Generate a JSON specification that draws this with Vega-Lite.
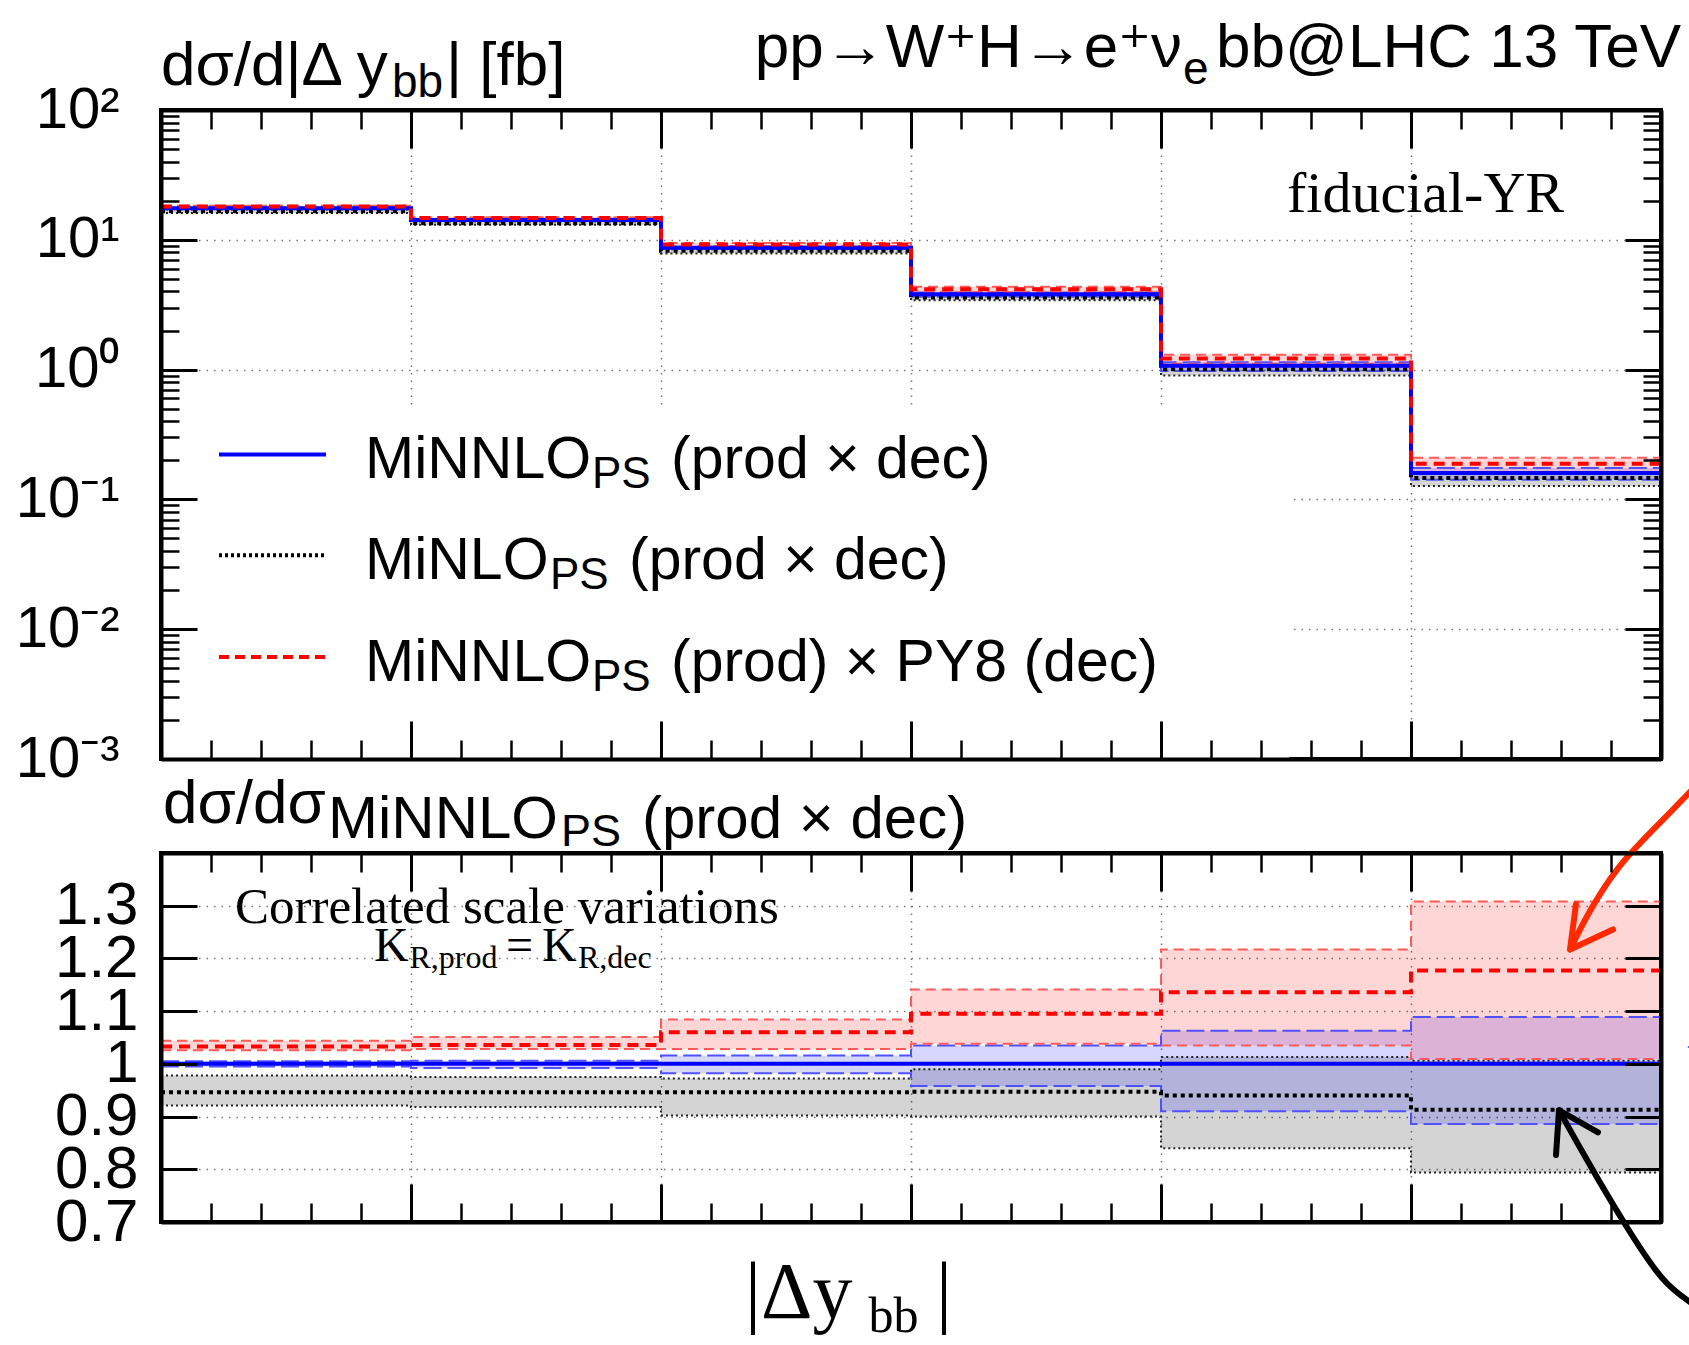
{
  "$schema": "https://vega.github.io/schema/vega-lite/v6.json",
  "background": "white",
  "padding": {"left": 13, "top": 15, "right": 0, "bottom": 0},
  "bounds": "flush",
  "spacing": 94,
  "config": {"view": {"stroke": "#000", "strokeWidth": 4}},
  "datasets": {
    "top": [
      {"s": "MiNLO", "x": 0, "c": 16.56, "lo": 16.12, "hi": 17.12},
      {"s": "MiNLO", "x": 0.5, "c": 13.43, "lo": 13.04, "hi": 13.85},
      {"s": "MiNLO", "x": 1, "c": 8.23, "lo": 7.85, "hi": 8.46},
      {"s": "MiNLO", "x": 1.5, "c": 3.6, "lo": 3.42, "hi": 3.76},
      {"s": "MiNLO", "x": 2, "c": 1.006, "lo": 0.899, "hi": 1.084},
      {"s": "MiNLO", "x": 2.5, "c": 0.1461, "lo": 0.127, "hi": 0.161},
      {"s": "MiNLO", "x": 3, "c": 0.1461, "lo": 0.127, "hi": 0.161},
      {"s": "MiNNLO", "x": 0, "c": 17.5, "lo": 17.41, "hi": 17.59},
      {"s": "MiNNLO", "x": 0.5, "c": 14.2, "lo": 14.09, "hi": 14.29},
      {"s": "MiNNLO", "x": 1, "c": 8.7, "lo": 8.54, "hi": 8.84},
      {"s": "MiNNLO", "x": 1.5, "c": 3.8, "lo": 3.64, "hi": 3.93},
      {"s": "MiNNLO", "x": 2, "c": 1.07, "lo": 0.974, "hi": 1.137},
      {"s": "MiNNLO", "x": 2.5, "c": 0.16, "lo": 0.1418, "hi": 0.1742},
      {"s": "MiNNLO", "x": 3, "c": 0.16, "lo": 0.1418, "hi": 0.1742},
      {"s": "PY8", "x": 0, "c": 18.08, "lo": 17.96, "hi": 18.27},
      {"s": "PY8", "x": 0.5, "c": 14.71, "lo": 14.6, "hi": 14.92},
      {"s": "PY8", "x": 1, "c": 9.22, "lo": 8.94, "hi": 9.43},
      {"s": "PY8", "x": 1.5, "c": 4.16, "lo": 3.94, "hi": 4.34},
      {"s": "PY8", "x": 2, "c": 1.216, "lo": 1.107, "hi": 1.302},
      {"s": "PY8", "x": 2.5, "c": 0.1883, "lo": 0.1614, "hi": 0.2093},
      {"s": "PY8", "x": 3, "c": 0.1883, "lo": 0.1614, "hi": 0.2093}
    ],
    "ratio": [
      {"s": "MiNLO", "x": 0, "c": 0.946, "lo": 0.921, "hi": 0.978},
      {"s": "MiNLO", "x": 0.5, "c": 0.946, "lo": 0.918, "hi": 0.975},
      {"s": "MiNLO", "x": 1, "c": 0.946, "lo": 0.902, "hi": 0.972},
      {"s": "MiNLO", "x": 1.5, "c": 0.947, "lo": 0.9, "hi": 0.99},
      {"s": "MiNLO", "x": 2, "c": 0.94, "lo": 0.84, "hi": 1.013},
      {"s": "MiNLO", "x": 2.5, "c": 0.913, "lo": 0.794, "hi": 1.006},
      {"s": "MiNLO", "x": 3, "c": 0.913, "lo": 0.794, "hi": 1.006},
      {"s": "MiNNLO", "x": 0, "c": 1, "lo": 0.995, "hi": 1.005},
      {"s": "MiNNLO", "x": 0.5, "c": 1, "lo": 0.992, "hi": 1.006},
      {"s": "MiNNLO", "x": 1, "c": 1, "lo": 0.982, "hi": 1.016},
      {"s": "MiNNLO", "x": 1.5, "c": 1, "lo": 0.958, "hi": 1.035},
      {"s": "MiNNLO", "x": 2, "c": 1, "lo": 0.91, "hi": 1.063},
      {"s": "MiNNLO", "x": 2.5, "c": 1, "lo": 0.886, "hi": 1.089},
      {"s": "MiNNLO", "x": 3, "c": 1, "lo": 0.886, "hi": 1.089},
      {"s": "PY8", "x": 0, "c": 1.033, "lo": 1.026, "hi": 1.044},
      {"s": "PY8", "x": 0.5, "c": 1.036, "lo": 1.028, "hi": 1.051},
      {"s": "PY8", "x": 1, "c": 1.06, "lo": 1.028, "hi": 1.084},
      {"s": "PY8", "x": 1.5, "c": 1.095, "lo": 1.038, "hi": 1.141},
      {"s": "PY8", "x": 2, "c": 1.136, "lo": 1.035, "hi": 1.217},
      {"s": "PY8", "x": 2.5, "c": 1.177, "lo": 1.009, "hi": 1.308},
      {"s": "PY8", "x": 3, "c": 1.177, "lo": 1.009, "hi": 1.308}
    ],
    "arrows": [
      {"g": "rc", "c": "r", "i": 0, "x": 2.818, "y": 1.217},
      {"g": "rc", "c": "r", "i": 1, "x": 2.858, "y": 1.29},
      {"g": "rc", "c": "r", "i": 2, "x": 2.914, "y": 1.371},
      {"g": "rc", "c": "r", "i": 3, "x": 2.982, "y": 1.442},
      {"g": "rc", "c": "r", "i": 4, "x": 3.06, "y": 1.518},
      {"g": "rc", "c": "r", "i": 5, "x": 3.12, "y": 1.58},
      {"g": "kc", "c": "k", "i": 0, "x": 2.796, "y": 0.912},
      {"g": "kc", "c": "k", "i": 1, "x": 2.832, "y": 0.851},
      {"g": "kc", "c": "k", "i": 2, "x": 2.878, "y": 0.775},
      {"g": "kc", "c": "k", "i": 3, "x": 2.932, "y": 0.69},
      {"g": "kc", "c": "k", "i": 4, "x": 3.002, "y": 0.594},
      {"g": "kc", "c": "k", "i": 5, "x": 3.06, "y": 0.547},
      {"g": "kc", "c": "k", "i": 6, "x": 3.1, "y": 0.52}
    ],
    "heads": [
      {"g": "rh", "c": "r", "i": 0, "x": 2.83, "y": 1.303},
      {"g": "rh", "c": "r", "i": 1, "x": 2.818, "y": 1.217},
      {"g": "rh", "c": "r", "i": 2, "x": 2.904, "y": 1.255},
      {"g": "kh", "c": "k", "i": 0, "x": 2.79, "y": 0.827},
      {"g": "kh", "c": "k", "i": 1, "x": 2.796, "y": 0.912},
      {"g": "kh", "c": "k", "i": 2, "x": 2.874, "y": 0.87}
    ]
  },
  "vconcat": [
    {
      "width": 1500,
      "height": 649,
      "data": {"name": "top"},
      "resolve": {"axis": {"x": "independent", "y": "independent"}},
      "layer": [
        {"data": {"values": [{}]}, "mark": {"type": "rect", "fill": "white"},
         "encoding": {"x": {"datum": 0, "type": "quantitative", "axis": null}, "x2": {"datum": 2.256}, "y": {"datum": 0.519, "type": "quantitative", "axis": null}, "y2": {"datum": 0.001}}},
        {"transform": [{"filter": "datum.s === 'MiNLO'"}], "mark": {"type": "area", "interpolate": "step-after", "fill": "#000000", "fillOpacity": 0.17},
         "encoding": {
           "x": {"field": "x", "type": "quantitative", "scale": {"domain": [0, 3], "nice": false, "zero": false},
             "axis": {"orient": "bottom", "values": [0.5, 1, 1.5, 2, 2.5], "grid": true, "gridColor": "#777", "gridDash": [1.5, 6], "gridWidth": 1.5, "ticks": false, "labels": false, "domain": false, "title": null, "zindex": 0}},
           "y": {"field": "lo", "type": "quantitative", "scale": {"type": "log", "domain": [0.001, 100]},
             "axis": {"orient": "left", "values": [0.001, 0.01, 0.1, 1, 10, 100], "grid": true, "gridColor": "#777", "gridDash": [1.5, 6], "gridWidth": 1.5, "ticks": false, "labels": true, "labelExpr": "['10⁻³','10⁻²','10⁻¹','10⁰','10¹','10²'][round(log(datum.value)/LN10)+3]", "labelFont": "Liberation Sans", "labelFontSize": 58, "labelColor": "#000", "labelPadding": 42, "labelOverlap": false, "labelBound": false, "labelFlush": false, "domain": false, "title": null, "zindex": 0}},
           "y2": {"field": "hi"}}},
        {"transform": [{"filter": "datum.s === 'MiNNLO'"}], "mark": {"type": "area", "interpolate": "step-after", "fill": "#0000ff", "fillOpacity": 0.16},
         "encoding": {
           "x": {"field": "x", "type": "quantitative",
             "axis": {"orient": "bottom", "values": [0, 0.5, 1, 1.5, 2, 2.5, 3], "grid": false, "ticks": true, "tickSize": -38, "tickWidth": 3, "tickColor": "#000", "labels": false, "domain": true, "domainColor": "#000", "domainWidth": 4, "title": null, "zindex": 1}},
           "y": {"field": "lo", "type": "quantitative",
             "axis": {"orient": "left", "values": [0.001, 0.01, 0.1, 1, 10, 100], "grid": false, "ticks": true, "tickSize": -36, "tickWidth": 3, "tickColor": "#000", "labels": false, "domain": true, "domainColor": "#000", "domainWidth": 4, "title": null, "zindex": 1}},
           "y2": {"field": "hi"}}},
        {"transform": [{"filter": "datum.s === 'PY8'"}], "mark": {"type": "area", "interpolate": "step-after", "fill": "#ff0000", "fillOpacity": 0.16},
         "encoding": {
           "x": {"field": "x", "type": "quantitative",
             "axis": {"orient": "bottom", "values": [0.1, 0.2, 0.3, 0.4, 0.6, 0.7, 0.8, 0.9, 1.1, 1.2, 1.3, 1.4, 1.6, 1.7, 1.8, 1.9, 2.1, 2.2, 2.3, 2.4, 2.6, 2.7, 2.8, 2.9], "grid": false, "ticks": true, "tickSize": -19, "tickWidth": 2.5, "tickColor": "#000", "labels": false, "domain": false, "title": null, "zindex": 1}},
           "y": {"field": "lo", "type": "quantitative",
             "axis": {"orient": "left", "values": [0.002, 0.003, 0.004, 0.005, 0.006, 0.007, 0.008, 0.009, 0.02, 0.03, 0.04, 0.05, 0.06, 0.07, 0.08, 0.09, 0.2, 0.3, 0.4, 0.5, 0.6, 0.7, 0.8, 0.9, 2, 3, 4, 5, 6, 7, 8, 9, 20, 30, 40, 50, 60, 70, 80, 90], "grid": false, "ticks": true, "tickSize": -18, "tickWidth": 2.5, "tickColor": "#000", "labels": false, "domain": false, "title": null, "zindex": 1}},
           "y2": {"field": "hi"}}},
        {"transform": [{"filter": "datum.s === 'MiNLO'"}], "mark": {"type": "line", "interpolate": "step-after", "stroke": "#222", "strokeWidth": 2, "strokeDash": [2, 3]},
         "encoding": {
           "x": {"field": "x", "type": "quantitative",
             "axis": {"orient": "top", "values": [0, 0.5, 1, 1.5, 2, 2.5, 3], "grid": false, "ticks": true, "tickSize": -38, "tickWidth": 3, "tickColor": "#000", "labels": false, "domain": true, "domainColor": "#000", "domainWidth": 4, "title": null, "zindex": 1}},
           "y": {"field": "lo", "type": "quantitative",
             "axis": {"orient": "right", "values": [0.001, 0.01, 0.1, 1, 10, 100], "grid": false, "ticks": true, "tickSize": -36, "tickWidth": 3, "tickColor": "#000", "labels": false, "domain": true, "domainColor": "#000", "domainWidth": 4, "title": null, "zindex": 1}}}},
        {"transform": [{"filter": "datum.s === 'MiNLO'"}], "mark": {"type": "line", "interpolate": "step-after", "stroke": "#222", "strokeWidth": 2, "strokeDash": [2, 3]},
         "encoding": {
           "x": {"field": "x", "type": "quantitative",
             "axis": {"orient": "top", "values": [0.1, 0.2, 0.3, 0.4, 0.6, 0.7, 0.8, 0.9, 1.1, 1.2, 1.3, 1.4, 1.6, 1.7, 1.8, 1.9, 2.1, 2.2, 2.3, 2.4, 2.6, 2.7, 2.8, 2.9], "grid": false, "ticks": true, "tickSize": -19, "tickWidth": 2.5, "tickColor": "#000", "labels": false, "domain": false, "title": null, "zindex": 1}},
           "y": {"field": "hi", "type": "quantitative",
             "axis": {"orient": "right", "values": [0.002, 0.003, 0.004, 0.005, 0.006, 0.007, 0.008, 0.009, 0.02, 0.03, 0.04, 0.05, 0.06, 0.07, 0.08, 0.09, 0.2, 0.3, 0.4, 0.5, 0.6, 0.7, 0.8, 0.9, 2, 3, 4, 5, 6, 7, 8, 9, 20, 30, 40, 50, 60, 70, 80, 90], "grid": false, "ticks": true, "tickSize": -18, "tickWidth": 2.5, "tickColor": "#000", "labels": false, "domain": false, "title": null, "zindex": 1}}}},
        {"transform": [{"filter": "datum.s === 'MiNNLO'"}], "mark": {"type": "line", "interpolate": "step-after", "stroke": "#5050ff", "strokeWidth": 2, "strokeDash": [18, 6]},
         "encoding": {"x": {"field": "x", "type": "quantitative", "axis": null}, "y": {"field": "lo", "type": "quantitative", "axis": null}}},
        {"transform": [{"filter": "datum.s === 'MiNNLO'"}], "mark": {"type": "line", "interpolate": "step-after", "stroke": "#5050ff", "strokeWidth": 2, "strokeDash": [18, 6]},
         "encoding": {"x": {"field": "x", "type": "quantitative", "axis": null}, "y": {"field": "hi", "type": "quantitative", "axis": null}}},
        {"transform": [{"filter": "datum.s === 'PY8'"}], "mark": {"type": "line", "interpolate": "step-after", "stroke": "#ff5a5a", "strokeWidth": 2, "strokeDash": [10, 6]},
         "encoding": {"x": {"field": "x", "type": "quantitative", "axis": null}, "y": {"field": "lo", "type": "quantitative", "axis": null}}},
        {"transform": [{"filter": "datum.s === 'PY8'"}], "mark": {"type": "line", "interpolate": "step-after", "stroke": "#ff5a5a", "strokeWidth": 2, "strokeDash": [10, 6]},
         "encoding": {"x": {"field": "x", "type": "quantitative", "axis": null}, "y": {"field": "hi", "type": "quantitative", "axis": null}}},
        {"transform": [{"filter": "datum.s === 'MiNLO'"}], "mark": {"type": "line", "interpolate": "step-after", "stroke": "#000", "strokeWidth": 4, "strokeDash": [4, 4]},
         "encoding": {"x": {"field": "x", "type": "quantitative", "axis": null}, "y": {"field": "c", "type": "quantitative", "axis": null}}},
        {"transform": [{"filter": "datum.s === 'MiNNLO'"}], "mark": {"type": "line", "interpolate": "step-after", "stroke": "#0000ff", "strokeWidth": 4},
         "encoding": {"x": {"field": "x", "type": "quantitative", "axis": null}, "y": {"field": "c", "type": "quantitative", "axis": null}}},
        {"transform": [{"filter": "datum.s === 'PY8'"}], "mark": {"type": "line", "interpolate": "step-after", "stroke": "#ff0000", "strokeWidth": 4, "strokeDash": [11, 7]},
         "encoding": {"x": {"field": "x", "type": "quantitative", "axis": null}, "y": {"field": "c", "type": "quantitative", "axis": null}}},
        {"data": {"values": [{}]}, "mark": {"type": "rule", "stroke": "#0000ff", "strokeWidth": 4},
         "encoding": {"x": {"datum": 0.116, "type": "quantitative", "axis": null}, "x2": {"datum": 0.33}, "y": {"datum": 0.2218, "type": "quantitative", "axis": null}}},
        {"data": {"values": [{}]}, "mark": {"type": "rule", "stroke": "#000", "strokeWidth": 4, "strokeDash": [3, 3]},
         "encoding": {"x": {"datum": 0.116, "type": "quantitative", "axis": null}, "x2": {"datum": 0.33}, "y": {"datum": 0.03707, "type": "quantitative", "axis": null}}},
        {"data": {"values": [{}]}, "mark": {"type": "rule", "stroke": "#ff0000", "strokeWidth": 4, "strokeDash": [10, 6]},
         "encoding": {"x": {"datum": 0.116, "type": "quantitative", "axis": null}, "x2": {"datum": 0.33}, "y": {"datum": 0.006095, "type": "quantitative", "axis": null}}},
        {"data": {"values": [{}]}, "mark": {"type": "text", "text": "MiNNLO", "font": "Liberation Sans", "fontSize": 59, "align": "left", "baseline": "alphabetic", "color": "#000"},
         "encoding": {"x": {"datum": 0.408, "type": "quantitative", "axis": null}, "y": {"datum": 0.1451, "type": "quantitative", "axis": null}}},
        {"data": {"values": [{}]}, "mark": {"type": "text", "text": "PS", "font": "Liberation Sans", "fontSize": 44, "align": "left", "baseline": "alphabetic", "color": "#000"},
         "encoding": {"x": {"datum": 0.862, "type": "quantitative", "axis": null}, "y": {"datum": 0.1216, "type": "quantitative", "axis": null}}},
        {"data": {"values": [{}]}, "mark": {"type": "text", "text": "(prod × dec)", "font": "Liberation Sans", "fontSize": 59, "align": "left", "baseline": "alphabetic", "color": "#000"},
         "encoding": {"x": {"datum": 1.02, "type": "quantitative", "axis": null}, "y": {"datum": 0.1451, "type": "quantitative", "axis": null}}},
        {"data": {"values": [{}]}, "mark": {"type": "text", "text": "MiNLO", "font": "Liberation Sans", "fontSize": 59, "align": "left", "baseline": "alphabetic", "color": "#000"},
         "encoding": {"x": {"datum": 0.408, "type": "quantitative", "axis": null}, "y": {"datum": 0.02426, "type": "quantitative", "axis": null}}},
        {"data": {"values": [{}]}, "mark": {"type": "text", "text": "PS", "font": "Liberation Sans", "fontSize": 44, "align": "left", "baseline": "alphabetic", "color": "#000"},
         "encoding": {"x": {"datum": 0.778, "type": "quantitative", "axis": null}, "y": {"datum": 0.02032, "type": "quantitative", "axis": null}}},
        {"data": {"values": [{}]}, "mark": {"type": "text", "text": "(prod × dec)", "font": "Liberation Sans", "fontSize": 59, "align": "left", "baseline": "alphabetic", "color": "#000"},
         "encoding": {"x": {"datum": 0.936, "type": "quantitative", "axis": null}, "y": {"datum": 0.02426, "type": "quantitative", "axis": null}}},
        {"data": {"values": [{}]}, "mark": {"type": "text", "text": "MiNNLO", "font": "Liberation Sans", "fontSize": 59, "align": "left", "baseline": "alphabetic", "color": "#000"},
         "encoding": {"x": {"datum": 0.408, "type": "quantitative", "axis": null}, "y": {"datum": 0.003981, "type": "quantitative", "axis": null}}},
        {"data": {"values": [{}]}, "mark": {"type": "text", "text": "PS", "font": "Liberation Sans", "fontSize": 44, "align": "left", "baseline": "alphabetic", "color": "#000"},
         "encoding": {"x": {"datum": 0.862, "type": "quantitative", "axis": null}, "y": {"datum": 0.003337, "type": "quantitative", "axis": null}}},
        {"data": {"values": [{}]}, "mark": {"type": "text", "text": "(prod) × PY8 (dec)", "font": "Liberation Sans", "fontSize": 59, "align": "left", "baseline": "alphabetic", "color": "#000"},
         "encoding": {"x": {"datum": 1.02, "type": "quantitative", "axis": null}, "y": {"datum": 0.003981, "type": "quantitative", "axis": null}}},
        {"data": {"values": [{}]}, "mark": {"type": "text", "text": "fiducial-YR", "font": "Liberation Serif", "fontSize": 58, "align": "right", "baseline": "alphabetic", "color": "#000"},
         "encoding": {"x": {"datum": 2.806, "type": "quantitative", "axis": null}, "y": {"datum": 16.42, "type": "quantitative", "axis": null}}},
        {"data": {"values": [{}]}, "mark": {"type": "text", "text": "dσ/d|Δ y", "font": "Liberation Sans", "fontSize": 62, "align": "left", "baseline": "alphabetic", "color": "#000"},
         "encoding": {"x": {"datum": 0, "type": "quantitative", "axis": null}, "y": {"datum": 155.7, "type": "quantitative", "axis": null}}},
        {"data": {"values": [{}]}, "mark": {"type": "text", "text": "bb", "font": "Liberation Sans", "fontSize": 46, "align": "left", "baseline": "alphabetic", "color": "#000"},
         "encoding": {"x": {"datum": 0.462, "type": "quantitative", "axis": null}, "y": {"datum": 125.9, "type": "quantitative", "axis": null}}},
        {"data": {"values": [{}]}, "mark": {"type": "text", "text": "| [fb]", "font": "Liberation Sans", "fontSize": 62, "align": "left", "baseline": "alphabetic", "color": "#000"},
         "encoding": {"x": {"datum": 0.57, "type": "quantitative", "axis": null}, "y": {"datum": 155.7, "type": "quantitative", "axis": null}}},
        {"data": {"values": [{}]}, "mark": {"type": "text", "text": "pp→W⁺H→e⁺ν", "font": "Liberation Sans, DejaVu Sans", "fontSize": 62, "align": "right", "baseline": "alphabetic", "color": "#000"},
         "encoding": {"x": {"datum": 2.042, "type": "quantitative", "axis": null}, "y": {"datum": 214.2, "type": "quantitative", "axis": null}}},
        {"data": {"values": [{}]}, "mark": {"type": "text", "text": "e", "font": "Liberation Sans", "fontSize": 46, "align": "left", "baseline": "alphabetic", "color": "#000"},
         "encoding": {"x": {"datum": 2.044, "type": "quantitative", "axis": null}, "y": {"datum": 158.5, "type": "quantitative", "axis": null}}},
        {"data": {"values": [{}]}, "mark": {"type": "text", "text": "bb@LHC 13 TeV", "font": "Liberation Sans", "fontSize": 62, "align": "left", "baseline": "alphabetic", "color": "#000"},
         "encoding": {"x": {"datum": 2.11, "type": "quantitative", "axis": null}, "y": {"datum": 214.2, "type": "quantitative", "axis": null}}}
      ]
    },
    {
      "width": 1500,
      "height": 369,
      "data": {"name": "ratio"},
      "resolve": {"axis": {"x": "independent", "y": "independent"}},
      "layer": [
        {"transform": [{"filter": "datum.s === 'MiNLO'"}], "mark": {"type": "area", "interpolate": "step-after", "fill": "#000000", "fillOpacity": 0.17},
         "encoding": {
           "x": {"field": "x", "type": "quantitative", "scale": {"domain": [0, 3], "nice": false, "zero": false},
             "axis": {"orient": "bottom", "values": [0.5, 1, 1.5, 2, 2.5], "grid": true, "gridColor": "#777", "gridDash": [1.5, 6], "gridWidth": 1.5, "ticks": false, "labels": false, "domain": false, "title": null, "zindex": 0}},
           "y": {"field": "lo", "type": "quantitative", "scale": {"domain": [0.7, 1.4], "nice": false, "zero": false},
             "axis": {"orient": "left", "values": [0.7, 0.8, 0.9, 1, 1.1, 1.2, 1.3], "grid": true, "gridColor": "#777", "gridDash": [1.5, 6], "gridWidth": 1.5, "ticks": false, "labels": true, "labelExpr": "format(datum.value, '~g')", "labelFont": "Liberation Sans", "labelFontSize": 60, "labelColor": "#000", "labelPadding": 23, "labelOverlap": false, "labelBound": false, "labelFlush": false, "domain": false, "title": null, "zindex": 0}},
           "y2": {"field": "hi"}}},
        {"transform": [{"filter": "datum.s === 'MiNNLO'"}], "mark": {"type": "area", "interpolate": "step-after", "fill": "#0000ff", "fillOpacity": 0.16},
         "encoding": {
           "x": {"field": "x", "type": "quantitative",
             "axis": {"orient": "bottom", "values": [0, 0.5, 1, 1.5, 2, 2.5, 3], "grid": false, "ticks": true, "tickSize": -38, "tickWidth": 3, "tickColor": "#000", "labels": false, "domain": true, "domainColor": "#000", "domainWidth": 4, "title": null, "zindex": 1}},
           "y": {"field": "lo", "type": "quantitative",
             "axis": {"orient": "left", "values": [0.8, 0.9, 1, 1.1, 1.2, 1.3], "grid": false, "ticks": true, "tickSize": -36, "tickWidth": 3, "tickColor": "#000", "labels": false, "domain": true, "domainColor": "#000", "domainWidth": 4, "title": null, "zindex": 1}},
           "y2": {"field": "hi"}}},
        {"transform": [{"filter": "datum.s === 'PY8'"}], "mark": {"type": "area", "interpolate": "step-after", "fill": "#ff0000", "fillOpacity": 0.16},
         "encoding": {
           "x": {"field": "x", "type": "quantitative",
             "axis": {"orient": "bottom", "values": [0.1, 0.2, 0.3, 0.4, 0.6, 0.7, 0.8, 0.9, 1.1, 1.2, 1.3, 1.4, 1.6, 1.7, 1.8, 1.9, 2.1, 2.2, 2.3, 2.4, 2.6, 2.7, 2.8, 2.9], "grid": false, "ticks": true, "tickSize": -19, "tickWidth": 2.5, "tickColor": "#000", "labels": false, "domain": false, "title": null, "zindex": 1}},
           "y": {"field": "lo", "type": "quantitative",
             "axis": {"orient": "right", "values": [0.8, 0.9, 1, 1.1, 1.2, 1.3], "grid": false, "ticks": true, "tickSize": -36, "tickWidth": 3, "tickColor": "#000", "labels": false, "domain": true, "domainColor": "#000", "domainWidth": 4, "title": null, "zindex": 1}},
           "y2": {"field": "hi"}}},
        {"transform": [{"filter": "datum.s === 'MiNLO'"}], "mark": {"type": "line", "interpolate": "step-after", "stroke": "#222", "strokeWidth": 2, "strokeDash": [2, 3]},
         "encoding": {
           "x": {"field": "x", "type": "quantitative",
             "axis": {"orient": "top", "values": [0, 0.5, 1, 1.5, 2, 2.5, 3], "grid": false, "ticks": true, "tickSize": -38, "tickWidth": 3, "tickColor": "#000", "labels": false, "domain": true, "domainColor": "#000", "domainWidth": 4, "title": null, "zindex": 1}},
           "y": {"field": "lo", "type": "quantitative", "axis": null}}},
        {"transform": [{"filter": "datum.s === 'MiNLO'"}], "mark": {"type": "line", "interpolate": "step-after", "stroke": "#222", "strokeWidth": 2, "strokeDash": [2, 3]},
         "encoding": {
           "x": {"field": "x", "type": "quantitative",
             "axis": {"orient": "top", "values": [0.1, 0.2, 0.3, 0.4, 0.6, 0.7, 0.8, 0.9, 1.1, 1.2, 1.3, 1.4, 1.6, 1.7, 1.8, 1.9, 2.1, 2.2, 2.3, 2.4, 2.6, 2.7, 2.8, 2.9], "grid": false, "ticks": true, "tickSize": -19, "tickWidth": 2.5, "tickColor": "#000", "labels": false, "domain": false, "title": null, "zindex": 1}},
           "y": {"field": "hi", "type": "quantitative", "axis": null}}},
        {"transform": [{"filter": "datum.s === 'MiNNLO'"}], "mark": {"type": "line", "interpolate": "step-after", "stroke": "#5050ff", "strokeWidth": 2, "strokeDash": [18, 6]},
         "encoding": {"x": {"field": "x", "type": "quantitative", "axis": null}, "y": {"field": "lo", "type": "quantitative", "axis": null}}},
        {"transform": [{"filter": "datum.s === 'MiNNLO'"}], "mark": {"type": "line", "interpolate": "step-after", "stroke": "#5050ff", "strokeWidth": 2, "strokeDash": [18, 6]},
         "encoding": {"x": {"field": "x", "type": "quantitative", "axis": null}, "y": {"field": "hi", "type": "quantitative", "axis": null}}},
        {"transform": [{"filter": "datum.s === 'PY8'"}], "mark": {"type": "line", "interpolate": "step-after", "stroke": "#ff5a5a", "strokeWidth": 2, "strokeDash": [10, 6]},
         "encoding": {"x": {"field": "x", "type": "quantitative", "axis": null}, "y": {"field": "lo", "type": "quantitative", "axis": null}}},
        {"transform": [{"filter": "datum.s === 'PY8'"}], "mark": {"type": "line", "interpolate": "step-after", "stroke": "#ff5a5a", "strokeWidth": 2, "strokeDash": [10, 6]},
         "encoding": {"x": {"field": "x", "type": "quantitative", "axis": null}, "y": {"field": "hi", "type": "quantitative", "axis": null}}},
        {"transform": [{"filter": "datum.s === 'MiNLO'"}], "mark": {"type": "line", "interpolate": "step-after", "stroke": "#000", "strokeWidth": 4, "strokeDash": [4, 4]},
         "encoding": {"x": {"field": "x", "type": "quantitative", "axis": null}, "y": {"field": "c", "type": "quantitative", "axis": null}}},
        {"transform": [{"filter": "datum.s === 'MiNNLO'"}], "mark": {"type": "line", "interpolate": "step-after", "stroke": "#0000ff", "strokeWidth": 4},
         "encoding": {"x": {"field": "x", "type": "quantitative", "axis": null}, "y": {"field": "c", "type": "quantitative", "axis": null}}},
        {"transform": [{"filter": "datum.s === 'PY8'"}], "mark": {"type": "line", "interpolate": "step-after", "stroke": "#ff0000", "strokeWidth": 4, "strokeDash": [11, 7]},
         "encoding": {"x": {"field": "x", "type": "quantitative", "axis": null}, "y": {"field": "c", "type": "quantitative", "axis": null}}},
        {"data": {"name": "arrows"}, "mark": {"type": "line", "interpolate": "natural", "strokeWidth": 6, "strokeCap": "round"},
         "encoding": {"x": {"field": "x", "type": "quantitative", "axis": null}, "y": {"field": "y", "type": "quantitative", "axis": null}, "order": {"field": "i"},
           "color": {"field": "c", "type": "nominal", "scale": {"domain": ["r", "k"], "range": ["#ff2a00", "#000000"]}, "legend": null}}},
        {"data": {"name": "heads"}, "mark": {"type": "line", "interpolate": "linear", "strokeWidth": 6, "strokeCap": "round", "strokeJoin": "round"},
         "encoding": {"x": {"field": "x", "type": "quantitative", "axis": null}, "y": {"field": "y", "type": "quantitative", "axis": null}, "order": {"field": "i"},
           "color": {"field": "c", "type": "nominal", "scale": {"domain": ["r", "k"], "range": ["#ff2a00", "#000000"]}, "legend": null}}},
        {"data": {"values": [{}]}, "mark": {"type": "point", "shape": "triangle-left", "filled": true, "color": "#0a2bff", "size": 500, "opacity": 1},
         "encoding": {"x": {"datum": 3.072, "type": "quantitative", "axis": null}, "y": {"datum": 1.032, "type": "quantitative", "axis": null}}},
        {"data": {"values": [{}]}, "mark": {"type": "text", "text": "dσ/dσ", "font": "Liberation Sans", "fontSize": 62, "align": "left", "baseline": "alphabetic", "color": "#000"},
         "encoding": {"x": {"datum": 0.004, "type": "quantitative", "axis": null}, "y": {"datum": 1.4571, "type": "quantitative", "axis": null}}},
        {"data": {"values": [{}]}, "mark": {"type": "text", "text": "MiNNLO", "font": "Liberation Sans", "fontSize": 60, "align": "left", "baseline": "alphabetic", "color": "#000"},
         "encoding": {"x": {"datum": 0.334, "type": "quantitative", "axis": null}, "y": {"datum": 1.4286, "type": "quantitative", "axis": null}}},
        {"data": {"values": [{}]}, "mark": {"type": "text", "text": "PS", "font": "Liberation Sans", "fontSize": 45, "align": "left", "baseline": "alphabetic", "color": "#000"},
         "encoding": {"x": {"datum": 0.8, "type": "quantitative", "axis": null}, "y": {"datum": 1.4133, "type": "quantitative", "axis": null}}},
        {"data": {"values": [{}]}, "mark": {"type": "text", "text": "(prod × dec)", "font": "Liberation Sans", "fontSize": 60, "align": "left", "baseline": "alphabetic", "color": "#000"},
         "encoding": {"x": {"datum": 0.962, "type": "quantitative", "axis": null}, "y": {"datum": 1.4286, "type": "quantitative", "axis": null}}},
        {"data": {"values": [{}]}, "mark": {"type": "text", "text": "Correlated scale variations", "font": "Liberation Serif", "fontSize": 51, "align": "left", "baseline": "alphabetic", "color": "#000"},
         "encoding": {"x": {"datum": 0.148, "type": "quantitative", "axis": null}, "y": {"datum": 1.2668, "type": "quantitative", "axis": null}}},
        {"data": {"values": [{}]}, "mark": {"type": "text", "text": "K", "font": "Liberation Serif", "fontSize": 48, "align": "left", "baseline": "alphabetic", "color": "#000"},
         "encoding": {"x": {"datum": 0.426, "type": "quantitative", "axis": null}, "y": {"datum": 1.1943, "type": "quantitative", "axis": null}}},
        {"data": {"values": [{}]}, "mark": {"type": "text", "text": "R,prod", "font": "Liberation Serif", "fontSize": 32, "align": "left", "baseline": "alphabetic", "color": "#000"},
         "encoding": {"x": {"datum": 0.497, "type": "quantitative", "axis": null}, "y": {"datum": 1.181, "type": "quantitative", "axis": null}}},
        {"data": {"values": [{}]}, "mark": {"type": "text", "text": "=", "font": "Liberation Serif", "fontSize": 48, "align": "left", "baseline": "alphabetic", "color": "#000"},
         "encoding": {"x": {"datum": 0.69, "type": "quantitative", "axis": null}, "y": {"datum": 1.1943, "type": "quantitative", "axis": null}}},
        {"data": {"values": [{}]}, "mark": {"type": "text", "text": "K", "font": "Liberation Serif", "fontSize": 48, "align": "left", "baseline": "alphabetic", "color": "#000"},
         "encoding": {"x": {"datum": 0.762, "type": "quantitative", "axis": null}, "y": {"datum": 1.1943, "type": "quantitative", "axis": null}}},
        {"data": {"values": [{}]}, "mark": {"type": "text", "text": "R,dec", "font": "Liberation Serif", "fontSize": 32, "align": "left", "baseline": "alphabetic", "color": "#000"},
         "encoding": {"x": {"datum": 0.834, "type": "quantitative", "axis": null}, "y": {"datum": 1.181, "type": "quantitative", "axis": null}}},
        {"data": {"values": [{}]}, "mark": {"type": "text", "text": "|Δy", "font": "Liberation Serif", "fontSize": 80, "align": "left", "baseline": "alphabetic", "color": "#000"},
         "encoding": {"x": {"datum": 1.168, "type": "quantitative", "axis": null}, "y": {"datum": 0.518, "type": "quantitative", "axis": null}}},
        {"data": {"values": [{}]}, "mark": {"type": "text", "text": "bb", "font": "Liberation Serif", "fontSize": 50, "align": "left", "baseline": "alphabetic", "color": "#000"},
         "encoding": {"x": {"datum": 1.415, "type": "quantitative", "axis": null}, "y": {"datum": 0.492, "type": "quantitative", "axis": null}}},
        {"data": {"values": [{}]}, "mark": {"type": "text", "text": "|", "font": "Liberation Serif", "fontSize": 80, "align": "left", "baseline": "alphabetic", "color": "#000"},
         "encoding": {"x": {"datum": 1.55, "type": "quantitative", "axis": null}, "y": {"datum": 0.518, "type": "quantitative", "axis": null}}}
      ]
    }
  ]
}
